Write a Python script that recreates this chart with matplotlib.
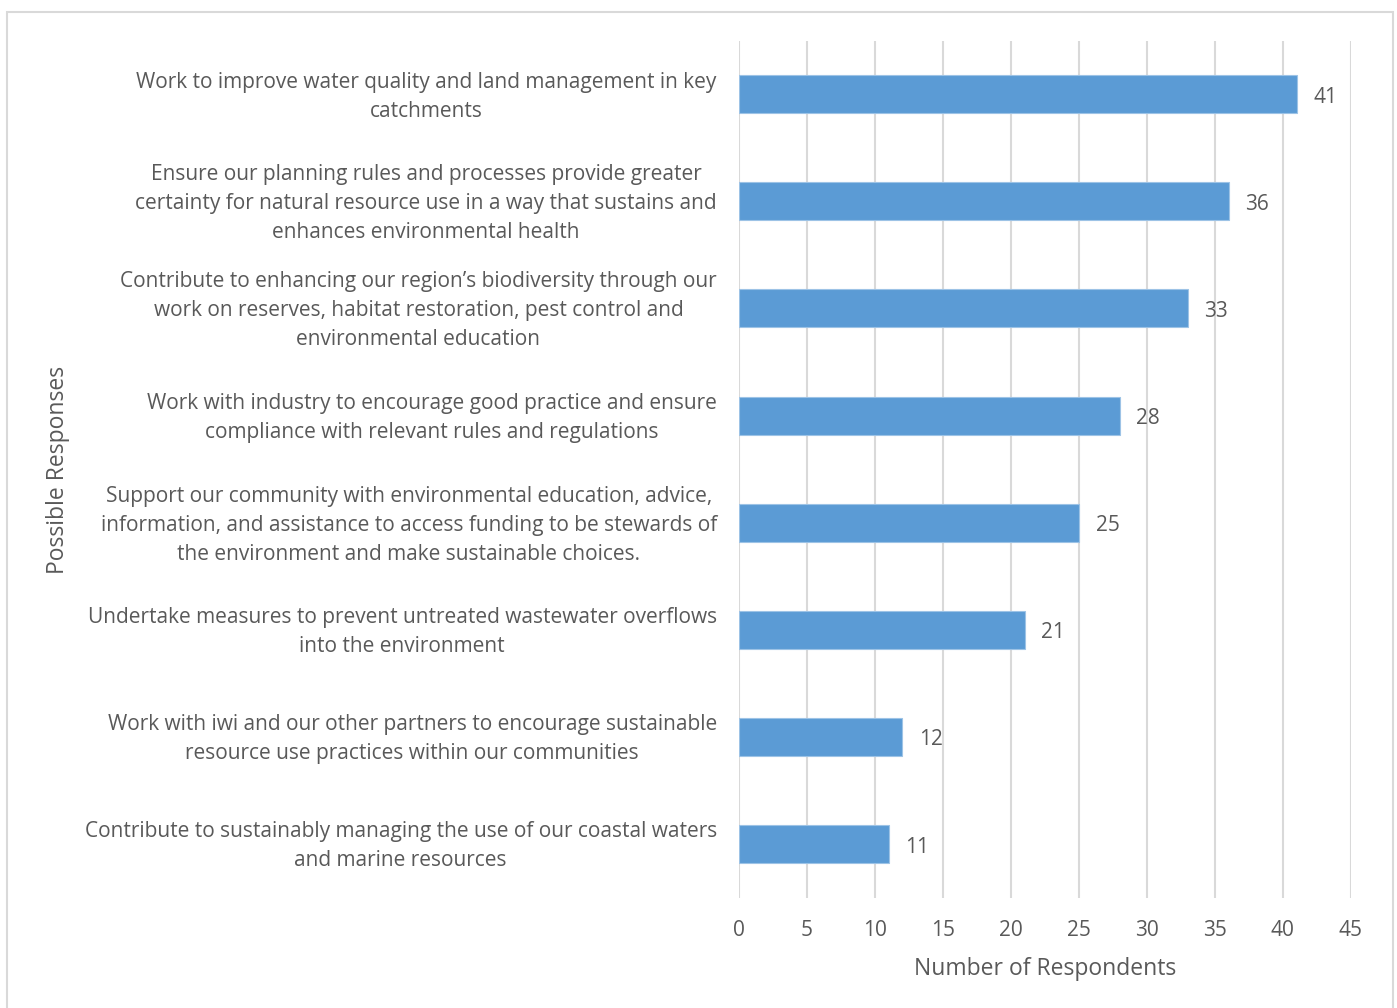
import matplotlib.pyplot as plt
from matplotlib.patches import Rectangle
from matplotlib.transforms import ScaledTranslation

plt.rcParams['font.family'] = ['Open Sans', 'DejaVu Sans']

responses = [
    "Work to improve water quality and land management in key\ncatchments",
    "Ensure our planning rules and processes provide greater\ncertainty for natural resource use in a way that sustains and\nenhances environmental health",
    "Contribute to enhancing our region\u2019s biodiversity through our\nwork on reserves, habitat restoration, pest control and\nenvironmental education",
    "Work with industry to encourage good practice and ensure\ncompliance with relevant rules and regulations",
    "Support our community with environmental education, advice,\ninformation, and assistance to access funding to be stewards of\nthe environment and make sustainable choices.",
    "Undertake measures to prevent untreated wastewater overflows\ninto the environment",
    "Work with iwi and our other partners to encourage sustainable\nresource use practices within our communities",
    "Contribute to sustainably managing the use of our coastal waters\nand marine resources",
]
counts = [41, 36, 33, 28, 25, 21, 12, 11]
xticks = [0, 5, 10, 15, 20, 25, 30, 35, 40, 45]

text_col = '#595959'
grid_col = '#D9D9D9'
bar_col = '#5B9BD5'

fig = plt.figure(figsize=(13.97, 10.08), dpi=100)
# light frame round the whole chart
fig.patches.append(Rectangle((0.005, -0.01), 0.992, 0.998, transform=fig.transFigure,
                             fill=False, edgecolor=grid_col, linewidth=1.5))

ax = fig.add_axes([0.529, 0.1096, 0.438, 0.850])
y = list(range(len(counts)))
bars = ax.barh(y, counts, height=0.355, color=bar_col, edgecolor='#9DC3E6',
               linewidth=0.8, zorder=3)
ax.set_ylim(len(counts) - 0.5, -0.5)
ax.set_xlim(0, 45)
ax.set_xticks(xticks)
ax.set_yticks(y)
ax.set_yticklabels(responses, fontsize=15, color=text_col, ha='right',
                   multialignment='center', linespacing=1.5)
ax.tick_params(axis='y', length=0, pad=16)
ax.tick_params(axis='x', length=0, pad=16, labelsize=15, labelcolor=text_col)
# nudge the category labels up a little
up = ScaledTranslation(0, 0.04, fig.dpi_scale_trans)
for lab in ax.get_yticklabels():
    lab.set_transform(lab.get_transform() + up)
for s in ax.spines.values():
    s.set_visible(False)
ax.xaxis.grid(True, color=grid_col, linewidth=1.5, zorder=0)
ax.set_axisbelow(True)

vals = ax.bar_label(bars, labels=[str(c) for c in counts], padding=12,
                    fontsize=15, color=text_col)
for t in vals:
    dx, dy = t.xyann
    t.xyann = (dx, dy - 2.2)

ax.set_xlabel('Number of Respondents', fontsize=16.5, color=text_col, labelpad=12)
fig.text(0.0415, 0.534, 'Possible Responses', rotation=90, fontsize=16.5,
         color=text_col, ha='center', va='center')

fig.savefig('out.png', dpi=100)
